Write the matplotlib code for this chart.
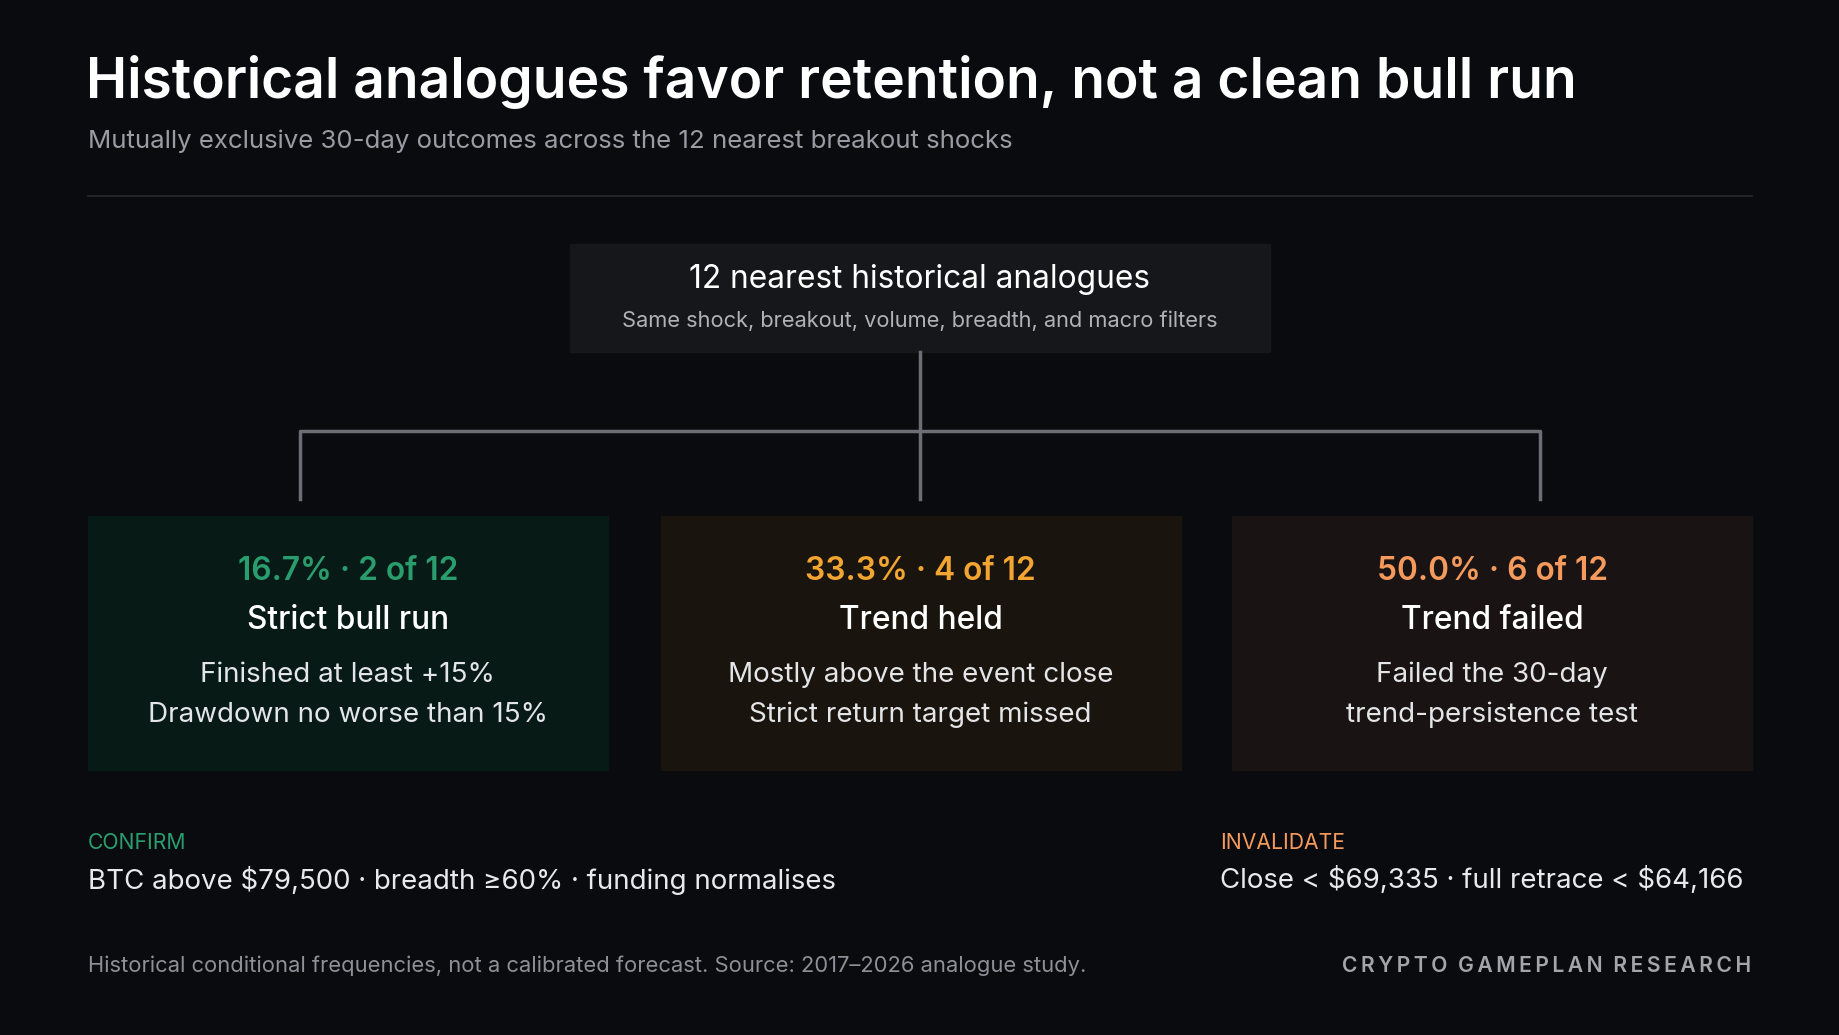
import matplotlib.pyplot as plt
from matplotlib.patches import Rectangle

plt.rcParams['font.family'] = ['Inter', 'DejaVu Sans']
plt.rcParams['text.parse_math'] = False

# data
outcome_names = ["Strict bull run", "Trend held", "Trend failed"]
outcome_counts = [2, 4, 6]
total = 12
outcome_notes = [["Finished at least +15%", "Drawdown no worse than 15%"],
                 ["Mostly above the event close", "Strict return target missed"],
                 ["Failed the 30-day", "trend-persistence test"]]
accent = ["#2a9d6e", "#f2a531", "#f59a5c"]
box_bg = ["#071a16", "#19140d", "#191413"]

W, H = 1568, 882
S = 1840 / W
def fs(px):
    return px * S * 0.72

fig = plt.figure(figsize=(18.4, 10.35), dpi=100)
fig.patch.set_facecolor("#0a0b0f")
ax = fig.add_axes([0, 0, 1, 1])
ax.set_xlim(0, W)
ax.set_ylim(H, 0)
ax.axis("off")

ax.text(73, 70, "Historical analogues favor retention, not a clean bull run", color="white",
        fontsize=fs(47), fontweight="semibold", va="center", ha="left")
ax.text(75, 120, "Mutually exclusive 30-day outcomes across the 12 nearest breakout shocks",
        color="#9a9ca3", fontsize=fs(22), va="center")
ax.plot([75, 1493], [167, 167], color="#26282d", lw=1.2)

# root box
ax.add_patch(Rectangle((486, 208), 596, 92, color="#16171b"))
ax.text(784, 238, "12 nearest historical analogues", color="white", fontsize=fs(27), ha="center", va="center")
ax.text(784, 273, "Same shock, breakout, volume, breadth, and macro filters", color="#b0b2b8",
        fontsize=fs(18.6), ha="center", va="center")

# connectors
lc = "#6b6e75"
ax.plot([784, 784], [300, 425], color=lc, lw=2.5)
ax.plot([256, 256, 1312, 1312], [425, 367, 367, 425], color=lc, lw=2.5)

box_x = [75, 563, 1050]
bw = 443
for i, name in enumerate(outcome_names):
    x0 = box_x[i]
    cx = x0 + bw / 2
    ax.add_patch(Rectangle((x0, 440), bw, 216, color=box_bg[i]))
    pct = 100 * outcome_counts[i] / total
    ax.text(cx, 487, f"{pct:.1f}% · {outcome_counts[i]} of {total}", color=accent[i],
            fontsize=fs(27), fontweight="semibold", ha="center", va="center")
    ax.text(cx, 529, name, color="white", fontsize=fs(27), fontweight="medium", ha="center", va="center")
    for j, line in enumerate(outcome_notes[i]):
        ax.text(cx, 575 + 34 * j, line, color="#e4e5e8", fontsize=fs(23.7), ha="center", va="center")

ax.text(75, 718, "CONFIRM", color=accent[0], fontsize=fs(18), va="center")
ax.text(75, 750, "BTC above $79,500 · breadth ≥60% · funding normalises", color="#e8e9ec",
        fontsize=fs(23.6), va="center")
ax.text(1040, 718, "INVALIDATE", color=accent[2], fontsize=fs(18), va="center")
ax.text(1040, 750, "Close < $69,335 · full retrace < $64,166", color="#e8e9ec",
        fontsize=fs(23.6), va="center")

ax.text(75, 823, "Historical conditional frequencies, not a calibrated forecast. Source: 2017–2026 analogue study.",
        color="#8e9097", fontsize=fs(18.7), va="center")
ax.text(1492, 823, "C R Y P T O   G A M E P L A N   R E S E A R C H".replace(" ", "\u2009").replace("\u2009\u2009\u2009", "  "),
        color="#a3a5ab", fontsize=fs(18), fontweight="semibold", ha="right", va="center",
        family=['Inter', 'DejaVu Sans'])

fig.savefig("out.png", dpi=100, facecolor=fig.get_facecolor())
